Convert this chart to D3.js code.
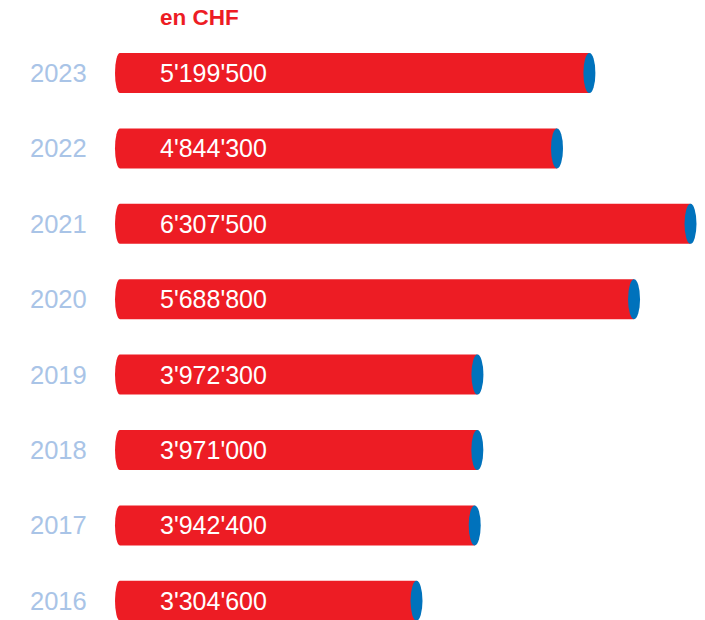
<!DOCTYPE html>
<html><head><meta charset="utf-8">
<script src="https://cdn.jsdelivr.net/npm/d3@7"></script>
<style>html,body{margin:0;padding:0;background:#fff;}svg{display:block;}</style>
</head><body>
<svg id="c" width="705" height="620"></svg>
<script>
const years = ["2023","2022","2021","2020","2019","2018","2017","2016"];
const values = [5199500, 4844300, 6307500, 5688800, 3972300, 3971000, 3942400, 3304600];
const unitLabel = "en CHF";

const svg = d3.select("#c");
const red = "#ED1C24", blue = "#0072BC", yearColor = "#A9C4E7";
const x = d3.scaleLinear().domain([0, 6307500]).range([115, 690.5]);
const y = d3.scaleBand().domain(years).range([53, 620.8]).paddingInner(0.4695).paddingOuter(0);
const bh = y.bandwidth();
const capRx = 6, leftRx = 5;

svg.append("text").attr("x", 160).attr("y", 25).attr("fill", red)
  .attr("font-family", "Liberation Sans, Arial, sans-serif").attr("font-weight", "bold")
  .attr("font-size", 22.5).text(unitLabel);

const g = svg.selectAll("g.row").data(years.map((yr,i)=>({yr, v: values[i]}))).join("g").attr("class","row");

g.append("path").attr("fill", red).attr("d", d => {
  const x0 = x(0), x1 = x(d.v), t = y(d.yr), b = t + bh, r = bh/2;
  return `M${x0+leftRx},${t} L${x1},${t} L${x1},${b} L${x0+leftRx},${b} A${leftRx},${r} 0 0 1 ${x0+leftRx},${t} Z`;
});
g.append("ellipse").attr("fill", blue)
  .attr("cx", d => x(d.v)).attr("cy", d => y(d.yr) + bh/2)
  .attr("rx", capRx).attr("ry", bh/2);

g.append("text").attr("x", 30).attr("y", d => y(d.yr) + bh/2 + 9)
  .attr("fill", yearColor).attr("font-family", "Liberation Sans, Arial, sans-serif")
  .attr("font-size", 25.5).text(d => d.yr);

const fmt = v => d3.format(",")(v).replace(/,/g, "'");
g.append("text").attr("x", 160).attr("y", d => y(d.yr) + bh/2 + 9)
  .attr("fill", "#fff").attr("font-family", "Liberation Sans, Arial, sans-serif")
  .attr("font-size", 25).text(d => fmt(d.v));
</script>
</body></html>
